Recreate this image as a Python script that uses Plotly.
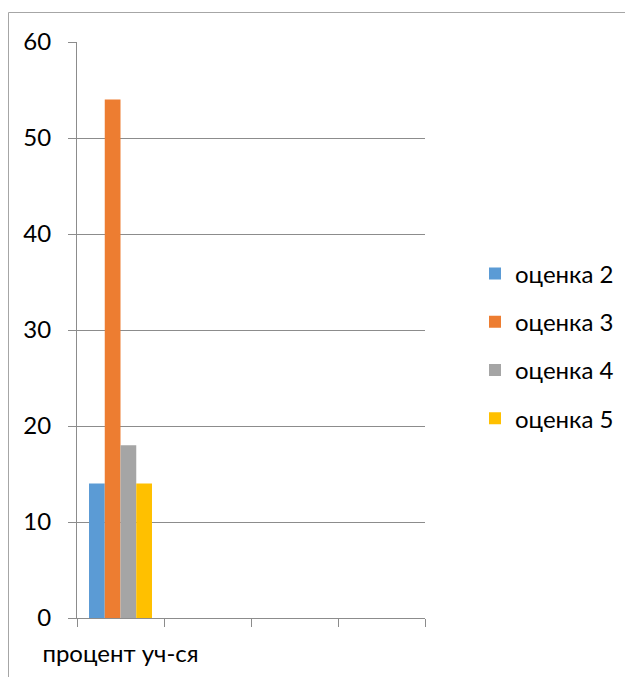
import plotly.graph_objects as go

categories = ["процент уч-ся", " ", "  ", "   "]
series_names = ["оценка 2", "оценка 3", "оценка 4", "оценка 5"]
series_values = [14, 54, 18, 14]
colors = ["#5B9BD5", "#ED7D31", "#A5A5A5", "#FFC000"]
y_ticks = [0, 10, 20, 30, 40, 50, 60]

FONT = "Lato, Noto Sans, sans-serif"
FS = 24
OFF = 8  # page body margin
W, H = 633 - OFF, 677 - OFF
L, T = 77 - OFF, 42 - OFF
R, B = W - (425 - OFF), H - (618 - OFF)
pw, ph = W - L - R, H - T - B

def px_x(px):
    return (px - OFF - L) / pw

def px_y(py):
    return (H - B - (py - OFF)) / ph

fig = go.Figure()
for i, (name, val, col) in enumerate(zip(series_names, series_values, colors)):
    fig.add_trace(go.Bar(
        x=[categories[0]], y=[val], name=name,
        marker=dict(color=col, line=dict(width=0)),
        legendgroup=f"g{i}",
    ))

fig.update_layout(
    width=W, height=H,
    margin=dict(l=L, r=R, t=T, b=B, pad=0, autoexpand=False),
    paper_bgcolor="white", plot_bgcolor="white",
    barmode="group", bargap=0.276, bargroupgap=0,
    font=dict(family=FONT, size=FS, color="#000000"),
    showlegend=True,
    legend=dict(
        x=px_x(475), xanchor="left",
        y=px_y(346), yanchor="middle",
        font=dict(family=FONT, size=FS, color="#000000"),
        tracegroupgap=14, bgcolor="rgba(0,0,0,0)",
    ),
    xaxis=dict(
        type="category", categoryorder="array", categoryarray=categories,
        range=[-0.5, 3.5], tickson="boundaries", tickangle=0, automargin=False,
        ticks="outside", ticklen=8, tickcolor="#8C8C8C", tickwidth=1,
        showline=True, linecolor="#8C8C8C", linewidth=1,
        showgrid=False, zeroline=False, fixedrange=True,
        tickfont=dict(family=FONT, size=FS, color="#000000"),
        ticklabelstandoff=14,
    ),
    yaxis=dict(
        range=[0, 60], tickvals=y_ticks, ticktext=[str(v) for v in y_ticks],
        ticks="outside", ticklen=8, tickcolor="#8C8C8C", tickwidth=1, automargin=False,
        showline=True, linecolor="#8C8C8C", linewidth=1,
        showgrid=True, gridcolor="#8C8C8C", gridwidth=1,
        zeroline=False, fixedrange=True,
        tickfont=dict(family=FONT, size=FS, color="#000000"),
        ticklabelstandoff=12,
    ),
    shapes=[dict(
        type="rect", xref="paper", yref="paper",
        x0=px_x(8.5), x1=px_x(645), y0=px_y(690), y1=px_y(12.5),
        line=dict(color="#A6A6A6", width=1), fillcolor="rgba(0,0,0,0)",
        layer="below",
    )],
)

fig.write_html("out.html")
